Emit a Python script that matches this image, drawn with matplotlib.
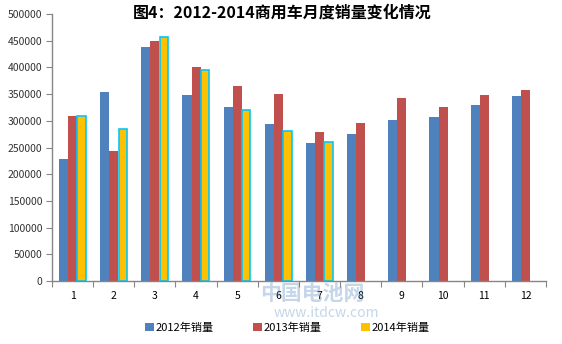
import numpy as np
import matplotlib.pyplot as plt
from matplotlib.patches import Patch

plt.rcParams['font.family'] = ['Noto Sans CJK SC', 'DejaVu Sans']

months = [str(m) for m in range(1, 13)]
sales_2012 = [228500, 354000, 438000, 348300, 325800, 294000,
              258400, 275300, 301500, 307100, 329600, 346400]
sales_2013 = [309000, 243500, 449400, 400700, 365000, 350000,
              279000, 295900, 342700, 325800, 348300, 357700]
sales_2014 = [308500, 284600, 458000, 394500, 319600, 281000, 259700]
series_labels = ['2012年销量', '2013年销量', '2014年销量']

c_blue = '#4F81BD'
c_red = '#C0504D'
c_yellow = '#FFC000'

fig = plt.figure(figsize=(5.62, 3.44), dpi=100)
ax = fig.add_axes([0.0925, 0.183, 0.879, 0.776])

x = np.arange(1, len(months) + 1)
w = 0.22
ax.bar(x - w, sales_2012, w, color=c_blue, linewidth=0)
ax.bar(x, sales_2013, w, color=c_red, linewidth=0)
x14 = x[:len(sales_2014)]
ax.bar(x14 + w, sales_2014, w * 0.92, color=c_yellow,
       edgecolor='#00C8FF', linewidth=1.2)

ax.set_xlim(0.5, 12.5)
ax.set_ylim(0, 500000)
ax.set_yticks(np.arange(0, 500001, 50000))
ax.set_yticklabels([str(v) for v in range(0, 500001, 50000)])

# category boundaries get the tick marks, labels sit centred between them
ax.set_xticks(np.arange(0.5, 12.6, 1))
ax.set_xticklabels([])
ax.set_xticks(x, minor=True)
ax.set_xticklabels(months, minor=True)
ax.tick_params(axis='x', which='major', length=4, direction='out',
               color='#868686')
ax.tick_params(axis='x', which='minor', length=0, pad=7, labelsize=7.5)
ax.tick_params(axis='y', length=4, direction='out', color='#868686',
               labelsize=7.5, labelcolor='#333333', pad=3)

for side in ['top', 'right']:
    ax.spines[side].set_visible(False)
for side in ['left', 'bottom']:
    ax.spines[side].set_color('#868686')
    ax.spines[side].set_linewidth(1.0)

# faint site watermark behind the axis labels
fig.text(0.555, 0.148, '中国电池网', ha='center', va='center',
         fontsize=15, fontweight='bold', color='#3F78B8', alpha=0.3,
         zorder=0)
fig.text(0.580, 0.090, 'www.itdcw.com', ha='center', va='center',
         fontsize=10, color='#3F78B8', alpha=0.3, zorder=0)

fig.text(0.502, 0.962, '图4：2012-2014商用车月度销量变化情况',
         ha='center', va='center', fontsize=11.5, fontweight='bold',
         color='black')

handles = [Patch(facecolor=c, edgecolor='none')
           for c in (c_blue, c_red, c_yellow)]
fig.legend(handles, series_labels, loc='center', ncol=3,
           bbox_to_anchor=(0.511, 0.048), frameon=False, fontsize=8,
           handlelength=0.8, handleheight=0.8, handletextpad=0.1,
           columnspacing=3.6)

fig.savefig('out.png', dpi=100)
